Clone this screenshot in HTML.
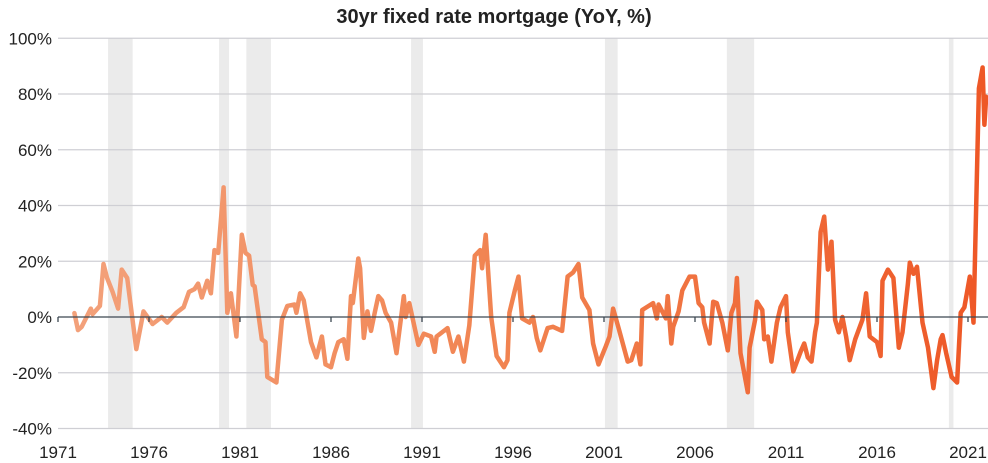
<!DOCTYPE html>
<html><head><meta charset="utf-8"><style>
body{margin:0;background:#fff;}
svg{display:block;font-family:"Liberation Sans",sans-serif;}
</style></head><body>
<svg id="c" width="988" height="463">
<defs><linearGradient id="lg" x1="58" y1="0" x2="988" y2="0" gradientUnits="userSpaceOnUse">
<stop offset="0" stop-color="#f3a27c"/><stop offset="0.5" stop-color="#f1824f"/><stop offset="1" stop-color="#ee5726"/></linearGradient></defs>
<text x="494" y="23" text-anchor="middle" font-size="20" font-weight="bold" fill="#222">30yr fixed rate mortgage (YoY, %)</text>
<g id="rec"></g><g id="grid"></g><g id="line"></g><g id="xax"></g>
</svg>
<script>
const recessions=[[1973.75,1975.1],[1979.85,1980.4],[1981.35,1982.7],[1990.4,1991.05],[2001.05,2001.75],[2007.75,2009.25],[2019.95,2020.2]];
const yTicks=[100,80,60,40,20,0,-20,-40];
const yTickLabels=["100%","80%","60%","40%","20%","0%","-20%","-40%"];
const xTicks=[1971,1976,1981,1986,1991,1996,2001,2006,2011,2016,2021];
const years=[1971.9,1972.1,1972.3,1972.8,1972.9,1973.3,1973.5,1973.7,1974.0,1974.3,1974.5,1974.8,1975.3,1975.7,1976.2,1976.7,1977.0,1977.5,1977.9,1978.2,1978.5,1978.7,1978.9,1979.2,1979.4,1979.6,1979.8,1980.1,1980.3,1980.5,1980.8,1981.1,1981.3,1981.5,1981.7,1981.8,1982.2,1982.4,1982.5,1983.0,1983.3,1983.6,1984.0,1984.1,1984.3,1984.5,1984.9,1985.2,1985.5,1985.7,1986.0,1986.2,1986.4,1986.7,1986.9,1987.1,1987.2,1987.5,1987.6,1987.8,1988.0,1988.2,1988.4,1988.6,1988.8,1989.0,1989.3,1989.6,1990.0,1990.1,1990.3,1990.8,1991.1,1991.5,1991.7,1991.8,1992.4,1992.7,1993.0,1993.3,1993.6,1993.9,1994.2,1994.3,1994.5,1994.8,1995.1,1995.5,1995.7,1995.8,1996.1,1996.3,1996.5,1996.9,1997.1,1997.3,1997.5,1997.9,1998.2,1998.7,1999.0,1999.3,1999.6,1999.8,2000.2,2000.4,2000.7,2001.1,2001.3,2001.5,2001.8,2002.3,2002.5,2002.8,2003.0,2003.1,2003.7,2003.9,2004.0,2004.4,2004.5,2004.7,2004.8,2005.1,2005.3,2005.7,2006.0,2006.2,2006.4,2006.5,2006.8,2007.0,2007.2,2007.5,2007.8,2008.0,2008.2,2008.3,2008.5,2008.9,2009.0,2009.3,2009.4,2009.7,2009.8,2010.0,2010.2,2010.5,2010.7,2011.0,2011.1,2011.4,2011.8,2012.0,2012.2,2012.4,2012.6,2012.7,2012.9,2013.1,2013.3,2013.5,2013.7,2013.9,2014.1,2014.3,2014.5,2014.8,2015.2,2015.4,2015.6,2016.0,2016.2,2016.3,2016.6,2016.9,2017.2,2017.4,2017.7,2017.8,2018.0,2018.2,2018.5,2018.8,2019.1,2019.3,2019.5,2019.6,2019.8,2020.1,2020.4,2020.6,2020.8,2021.1,2021.3,2021.6,2021.8,2021.9,2022.0];
const values=[1.4,-4.7,-3.5,3,1,4,19,14,9,3,17,14,-11.5,2,-2.5,0,-2,1.5,3.5,9,10,12,7,13,8.5,24,23,46.5,1.5,8.5,-7,29.5,23,22,11.5,11,-8,-9,-21.5,-23.5,-1,4,4.5,1.5,8.5,6,-9,-14.5,-7,-17,-18,-13,-9,-8,-15,7.5,5,21,17.5,-7.5,2,-5,1.5,7.5,6,1.5,-2,-13,7.5,0,5,-10,-6,-7,-12.5,-7,-4,-12.5,-7,-16,-3,22,24,17.5,29.5,0,-14,-18,-15.5,1.5,9.5,14.5,-0.5,-2,0,-7.5,-12,-4,-3.5,-5,14.5,16,19,7,2.5,-9.5,-17,-10.5,-7,3,-4,-16,-15.5,-9.5,-17,2.5,5,-0.5,4.5,-0.5,7.5,-9.5,-3.5,2,9.5,14.5,14.5,5,3.5,-2,-9.5,5.5,5,-2,-12,1.5,5,14,-13,-27,-11,-1,5.5,2.5,-8,-7,-16,-2,3.5,7.5,-5.5,-19.5,-12.5,-9.5,-14.5,-16,-5.5,-2,30.5,36,17,27,-1,-5.5,0,-7,-15.5,-8,-1,8.5,-7,-9,-14,13,17,14,-11,-5.5,12,19.5,15.5,18,-2,-11,-25.5,-15.5,-8,-6.5,-13,-21.5,-23.5,1.5,3.5,14.5,-2,82,89.5,69,79];
const NS="http://www.w3.org/2000/svg";
const X=y=>58+(y-1971)*18.2;
const Y=v=>317-v*2.7875;
function mk(t,p,a){const e=document.createElementNS(NS,t);for(const k in a)e.setAttribute(k,a[k]);p.appendChild(e);return e;}
const rec=document.getElementById('rec'),grid=document.getElementById('grid'),line=document.getElementById('line'),xax=document.getElementById('xax');
recessions.forEach(r=>{const e=mk('rect',rec,{x:X(r[0]),y:38,width:X(r[1])-X(r[0]),height:390,fill:'#ebebeb'});

});
yTicks.forEach((v,i)=>{if(v!==0){const l=mk('line',grid,{x1:58,x2:988,y1:Y(v),y2:Y(v),stroke:'#cfcfd4','stroke-width':1.2});

}
const t=mk('text',grid,{x:52,y:Y(v)+6,'text-anchor':'end','font-size':17,fill:'#222'});t.textContent=yTickLabels[i];

});
const d=years.map((y,i)=>(i?'L':'M')+X(y).toFixed(1)+','+Y(values[i]).toFixed(1)).join('');
const p=mk('path',line,{d:d,fill:'none',stroke:'url(#lg)','stroke-width':4.5,'stroke-linejoin':'round','stroke-linecap':'round'});


const z=mk('line',xax,{x1:58,x2:988,y1:Y(0),y2:Y(0),stroke:'#3c4752','stroke-width':1.3});


xTicks.forEach(y=>{const tk=mk('line',xax,{x1:X(y),x2:X(y),y1:Y(0),y2:Y(0)+5,stroke:'#3c4752','stroke-width':1.3});


const t=mk('text',xax,{x:X(y),y:458,'text-anchor':'middle','font-size':17,fill:'#222'});t.textContent=y;

});
</script>
</body></html>
